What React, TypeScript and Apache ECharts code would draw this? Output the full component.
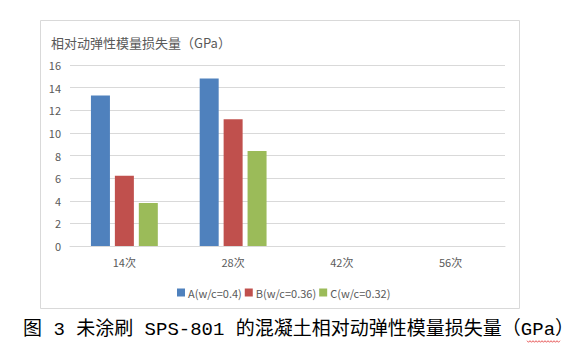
import React, { useEffect, useRef } from "react";
import * as echarts from "echarts";

const categories = ["14次", "28次", "42次", "56次"];
const seriesNames = ["A(w/c=0.4)", "B(w/c=0.36)", "C(w/c=0.32)"];
const seriesA = [13.3, 14.8, null, null];
const seriesB = [6.2, 11.2, null, null];
const seriesC = [3.8, 8.4, null, null];
const colors = ["#4F81BD", "#C0504D", "#9BBB59"];
const chartTitle = "相对动弹性模量损失量（GPa）";
const caption = "图 3 未涂刷 SPS-801 的混凝土相对动弹性模量损失量（GPa）";

function squiggle(x0: number, x1: number, y: number): number[][] {
  const pts: number[][] = [];
  let up = true;
  for (let x = x0; x <= x1; x += 1.5) {
    pts.push([x, up ? y - 0.8 : y + 0.8]);
    up = !up;
  }
  return pts;
}

export default function App() {
  const ref = useRef<HTMLDivElement>(null);
  useEffect(() => {
    if (!ref.current) return;
    const chart = echarts.init(ref.current, null, { renderer: "svg" });
    const values = [seriesA, seriesB, seriesC];
    chart.setOption({
      animation: false,
      backgroundColor: "#ffffff",
      color: colors,
      textStyle: { fontFamily: "Noto Sans CJK SC" },
      grid: { left: 70, right: 74, top: 65, bottom: 112 },
      legend: {
        data: seriesNames,
        left: 172,
        top: 282,
        itemWidth: 8,
        itemHeight: 8,
        itemGap: 3,
        icon: "rect",
        textStyle: { color: "#595959", fontSize: 11, fontFamily: "Noto Sans CJK SC", padding: [0, 0, 0, -2] },
      },
      xAxis: {
        type: "category",
        data: categories,
        axisLine: { lineStyle: { color: "#d9d9d9" } },
        axisTick: { show: false },
        axisLabel: { color: "#595959", fontSize: 11, margin: 10 },
      },
      yAxis: {
        type: "value",
        min: 0,
        max: 16,
        interval: 2,
        axisLine: { show: false },
        axisTick: { show: false },
        splitLine: { lineStyle: { color: "#d9d9d9" } },
        axisLabel: { color: "#595959", fontSize: 11, margin: 9 },
      },
      series: seriesNames.map((name, i) => ({
        name,
        type: "bar",
        data: values[i],
        barWidth: 19,
        barGap: "26%",
        itemStyle: { color: colors[i] },
      })),
      graphic: [
        {
          type: "rect",
          shape: { x: 40.5, y: 20.5, width: 479, height: 288 },
          style: { fill: "none", stroke: "#d9d9d9", lineWidth: 1 },
          z: -1,
        },
        {
          type: "text",
          x: 51,
          y: 42,
          style: {
            text: chartTitle,
            fill: "#595959",
            fontSize: 13,
            fontFamily: "Noto Sans CJK SC",
            verticalAlign: "middle",
          },
        },
        {
          type: "text",
          x: 23,
          y: 330,
          style: {
            text: caption,
            fill: "#000000",
            fontSize: 19,
            fontWeight: "normal",
            fontFamily: "'Liberation Mono', 'Noto Sans CJK SC'",
            verticalAlign: "middle",
          },
        },
        {
          type: "polyline",
          shape: { points: squiggle(527, 561, 341.5) },
          style: { stroke: "#e03030", lineWidth: 0.8, fill: "none" },
        },
      ],
    });
    return () => chart.dispose();
  }, []);
  return (
    <div
      ref={ref}
      style={{ position: "fixed", left: 0, top: 0, width: 579, height: 358, background: "#fff" }}
    />
  );
}
